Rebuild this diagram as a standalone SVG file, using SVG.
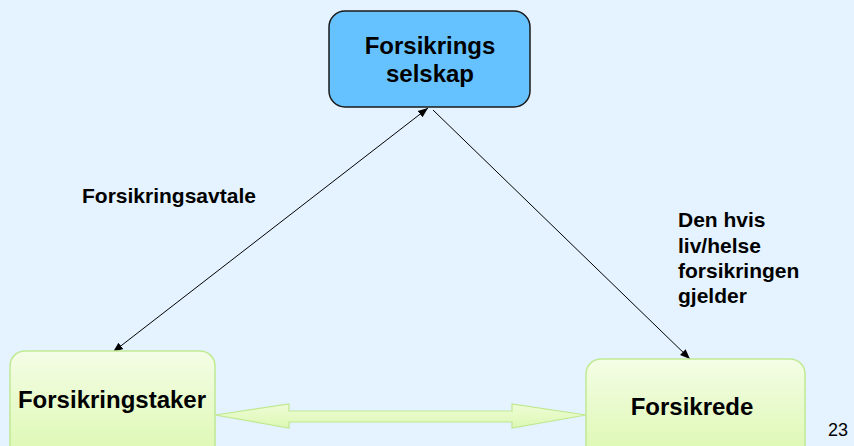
<svg xmlns="http://www.w3.org/2000/svg" width="854" height="446" viewBox="0 0 854 446">
<defs>
<linearGradient id="g" x1="0" y1="0" x2="0" y2="1">
<stop offset="0" stop-color="#f4fde6"/>
<stop offset="1" stop-color="#dcf8b0"/>
</linearGradient>
<linearGradient id="ga" x1="0" y1="0" x2="0" y2="1">
<stop offset="0" stop-color="#eefcd6"/>
<stop offset="1" stop-color="#ddf8b4"/>
</linearGradient>
<marker id="ah" viewBox="0 0 10 10" refX="10" refY="5" markerWidth="10" markerHeight="10" markerUnits="userSpaceOnUse" orient="auto-start-reverse">
<path d="M0,1 L10,5 L0,9 Z" fill="#000"/>
</marker>
<style>
.t{font-family:"Liberation Sans",Arial,sans-serif;font-weight:bold;fill:#000}
.box{font-size:24px}
.lbl{font-size:21px}
.green{fill:url(#g);stroke:#c0ea94;stroke-width:1.5}
.conn{stroke:#000;stroke-width:1;fill:none}
</style>
</defs>
<rect width="854" height="446" fill="#e4f3ff"/>
<g id="connectors">
<line class="conn" x1="113" y1="352" x2="428" y2="108" marker-start="url(#ah)" marker-end="url(#ah)"/>
<line class="conn" x1="433" y1="110" x2="690" y2="359" marker-end="url(#ah)"/>
<polygon points="215,415 289,404 289,411 512,411 512,404 586,415 512,428 512,422 289,422 289,428" fill="url(#ga)" stroke="#bfe88f" stroke-width="1.2"/>
</g>
<g id="selskap">
<rect x="329" y="11" width="201" height="96" rx="16" fill="#66c2ff" stroke="#1a1a1a" stroke-width="1.5"/>
<text class="t box" x="430" y="54" text-anchor="middle">Forsikrings</text>
<text class="t box" x="430" y="82" text-anchor="middle">selskap</text>
</g>
<g id="taker">
<rect class="green" x="10" y="351" width="205" height="110" rx="15"/>
<text class="t box" x="112" y="408" text-anchor="middle">Forsikringstaker</text>
</g>
<g id="forsikrede">
<rect class="green" x="586" y="359" width="219" height="100" rx="15"/>
<text class="t box" x="692" y="415" text-anchor="middle">Forsikrede</text>
</g>
<g id="labels">
<text class="t lbl" x="82" y="203">Forsikringsavtale</text>
<text class="t lbl" x="678" y="227">Den hvis</text>
<text class="t lbl" x="678" y="253">liv/helse</text>
<text class="t lbl" x="678" y="278">forsikringen</text>
<text class="t lbl" x="678" y="303">gjelder</text>
<text x="828" y="436" font-family="Liberation Sans, Arial, sans-serif" font-size="18" fill="#000">23</text>
</g>
</svg>
